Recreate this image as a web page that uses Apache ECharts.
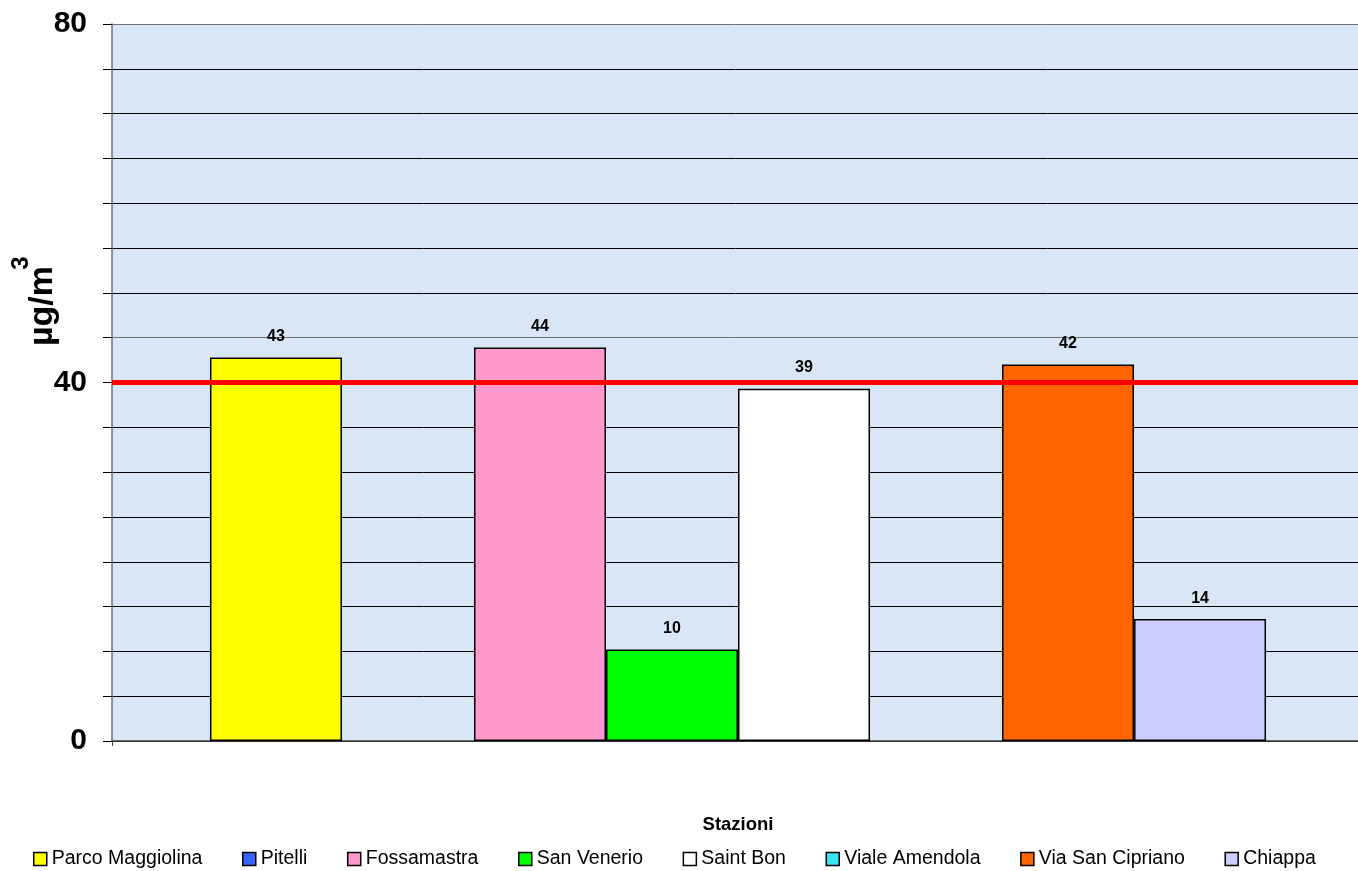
<!DOCTYPE html>
<html>
<head>
<meta charset="utf-8">
<script src="https://cdn.jsdelivr.net/npm/echarts@6/dist/echarts.min.js"></script>
<style>html,body{margin:0;padding:0;background:#fff}#c{width:1358px;height:871px}</style>
</head>
<body>
<div id="c"></div>
<script>
const categories = [''];
const stations = ['Parco Maggiolina','Pitelli','Fossamastra','San Venerio','Saint Bon','Viale Amendola','Via San Cipriano','Chiappa'];
const values = [42.8, null, 43.9, 10.2, 39.3, null, 42.0, 13.6];
const colors = ['#ffff00','#3366ff','#ff99cc','#00ff00','#ffffff','#33e6f0','#ff6600','#ccccff'];
const yTickLabels = [0, 40, 80];
const limitValue = 40;

const FONT = 'Liberation Sans, Arial, sans-serif';
const chart = echarts.init(document.getElementById('c'), null, {renderer:'canvas'});

const gridColors = [];
for (let i = 0; i <= 16; i++) gridColors.push(i === 9 || i === 16 ? '#707070' : '#000000');

const series = stations.map((name, i) => ({
  name: name,
  type: 'bar',
  data: [values[i] == null ? '-' : values[i]],
  barGap: '0%',
  barCategoryGap: '15.65%',
  itemStyle: { color: colors[i], borderColor: '#000', borderWidth: 1.5 },
  label: {
    show: true, position: 'top', distance: 13,
    fontFamily: FONT, fontWeight: 'bold', fontSize: 16, color: '#000',
    formatter: p => Math.round(p.value)
  },
  markLine: i === 0 ? {
    silent: true, symbol: 'none', label: { show: false },
    lineStyle: { color: '#ff0000', width: 5, type: 'solid' },
    data: [{ yAxis: limitValue }],
    animation: false
  } : undefined
}));

chart.setOption({
  animation: false,
  backgroundColor: '#ffffff',
  textStyle: { fontFamily: FONT },
  grid: { left: 112, right: -6, top: 24, bottom: 130, outerBoundsMode: 'none', containLabel: false,
          show: true, backgroundColor: '#d8e6f5', borderWidth: 0 },
  legend: {
    left: 33, top: 849, padding: 0, itemWidth: 13, itemHeight: 13, itemGap: 39.6,
    icon: 'rect',
    textStyle: { fontFamily: FONT, fontSize: 19.5, color: '#000' },
    itemStyle: { borderColor: '#000', borderWidth: 1.5 },
    data: stations
  },
  xAxis: {
    type: 'category', data: categories,
    name: 'Stazioni', nameLocation: 'middle', nameGap: 74,
    nameTextStyle: { fontFamily: FONT, fontWeight: 'bold', fontSize: 18.5, color: '#000' },
    axisLine: { lineStyle: { color: '#404040', width: 1.5 } },
    axisTick: { show: true, length: 5, lineStyle: { color: '#404040' } },
    axisLabel: { show: false }
  },
  yAxis: {
    type: 'value', min: 0, max: 80, interval: 5,
    axisLine: { show: true, lineStyle: { color: '#707070', width: 1.5 } },
    axisTick: { show: true, length: 9, lineStyle: { color: '#000' } },
    axisLabel: {
      margin: 25, fontFamily: FONT, fontWeight: 'bold', fontSize: 30, color: '#000',
      formatter: v => yTickLabels.indexOf(v) >= 0 ? String(v) : ''
    },
    splitLine: { show: true, lineStyle: { color: gridColors, width: 1 } }
  },
  graphic: [
    { type: 'text', x: 43, y: 306, rotation: Math.PI / 2,
      style: { text: 'µg/m', fontFamily: FONT, fontWeight: 'bold', fontSize: 34, fill: '#000', align: 'center', verticalAlign: 'middle' } },
    { type: 'text', x: 21, y: 263, rotation: Math.PI / 2,
      style: { text: '3', fontFamily: FONT, fontWeight: 'bold', fontSize: 24, fill: '#000', align: 'center', verticalAlign: 'middle' } }
  ],
  series: series
});
</script>
</body>
</html>
